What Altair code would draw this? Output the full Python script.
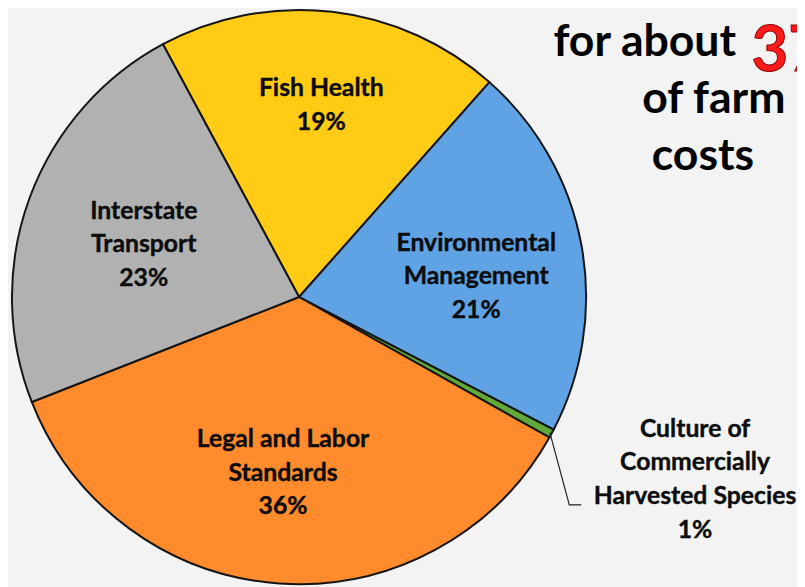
import math
import altair as alt
import pandas as pd

# ---- data ----
categories = [
    "Fish Health",
    "Environmental Management",
    "Culture of Commercially Harvested Species",
    "Legal and Labor Standards",
    "Interstate Transport",
]
shares = [19.4, 21.1, 0.5, 35.9, 23.1]
inside_labels = [
    "Fish Health\n19%",
    "Environmental\nManagement\n21%",
    "",
    "Legal and Labor\nStandards\n36%",
    "Interstate\nTransport\n23%",
]
outside_label = "Culture of\nCommercially\nHarvested Species\n1%"
colors = ["#FFCB14", "#5FA3E4", "#62A83A", "#FF8B2C", "#B1B1B1"]

# ---- layout / style ----
CX, CY, R = 294, 289, 290
START = math.radians(-28.3)
FONT = "Lato"
LH = 34

df = pd.DataFrame({
    "category": categories,
    "share": shares,
    "label": inside_labels,
    "idx": list(range(len(categories))),
})

theta_scale = alt.Scale(range=[START, START + 2 * math.pi])
color_scale = alt.Scale(domain=categories, range=colors)

base = alt.Chart(df).encode(
    theta=alt.Theta("share:Q", stack=True, scale=theta_scale),
    order=alt.Order("idx:Q"),
    x=alt.value(CX),
    y=alt.value(CY),
)

shadow = alt.Chart(pd.DataFrame({"a": [1]})).mark_circle(
    size=math.pi * (R + 3) ** 2, color="#9a9a9a", opacity=0.45
).encode(x=alt.value(CX + 4), y=alt.value(CY + 2))

arcs = base.mark_arc(outerRadius=R, stroke="#151515", strokeWidth=2).encode(
    color=alt.Color("category:N", scale=color_scale, legend=None)
)

# one text layer per inside label: (row index, radius, dx, extra dy)
label_place = [(0, 195, 0, 0), (1, 180, 2, 12), (3, 178, -4, 0), (4, 166, -1, 4)]
label_layers = []
for k, rad, ddx, ddy in label_place:
    n_lines = inside_labels[k].count("\n") + 1
    layer = base.transform_calculate(
        t=f"datum.idx == {k} ? datum.label : ''"
    ).mark_text(
        radius=rad, font=FONT, fontSize=25, fontWeight="bold",
        lineBreak="\n", lineHeight=LH, align="center", baseline="middle",
        dx=ddx, dy=-(n_lines - 1) * LH / 2 + ddy,
        stroke="#0d0d0d", strokeWidth=0.4,
    ).encode(text="t:N", color=alt.value("#0d0d0d"))
    label_layers.append(layer)

# leader line for the small slice, computed from the data
cum = sum(shares[:2]) + shares[2] / 2
ang = START + 2 * math.pi * cum / sum(shares)
sx, sy = CX + (R - 2) * math.sin(ang), CY - (R - 2) * math.cos(ang)
leader_df = pd.DataFrame({
    "px": [sx, 567, 579],
    "py": [sy, 499, 499],
    "o": [0, 1, 2],
})
leader = alt.Chart(leader_df).mark_line(color="#222222", strokeWidth=1.2).encode(
    x=alt.X("px:Q", scale=alt.Scale(domain=[0, 797], range=[0, 797]), axis=None),
    y=alt.Y("py:Q", scale=alt.Scale(domain=[0, 579], range=[0, 579]), axis=None),
    order="o:Q",
)

outside = alt.Chart(pd.DataFrame({"t": [outside_label]})).mark_text(
    font=FONT, fontSize=25, fontWeight="bold", lineBreak="\n", lineHeight=LH,
    align="center", baseline="middle", color="#0d0d0d",
    stroke="#0d0d0d", strokeWidth=0.4,
).encode(text="t:N", x=alt.value(694), y=alt.value(422))

head_font = dict(font=FONT, fontWeight="bold", color="#000000")
h1 = alt.Chart(pd.DataFrame({"t": ["for about"]})).mark_text(
    fontSize=45, align="left", baseline="alphabetic", **head_font
).encode(text="t:N", x=alt.value(551), y=alt.value(46))
h37 = alt.Chart(pd.DataFrame({"t": ["37%"]})).mark_text(
    fontSize=64, align="left", baseline="alphabetic", font=FONT, fontWeight="bold",
    color="#FF1A1A", stroke="#8a0000", strokeWidth=1,
).encode(text="t:N", x=alt.value(751), y=alt.value(61))
h2 = alt.Chart(pd.DataFrame({"t": ["of farm"]})).mark_text(
    fontSize=45, align="center", baseline="alphabetic", **head_font
).encode(text="t:N", x=alt.value(713), y=alt.value(103))
h3 = alt.Chart(pd.DataFrame({"t": ["costs"]})).mark_text(
    fontSize=45, align="center", baseline="alphabetic", **head_font
).encode(text="t:N", x=alt.value(702), y=alt.value(161))

chart = alt.layer(
    shadow, arcs, *label_layers, leader, outside, h1, h37, h2, h3
).properties(
    width=797, height=579, padding=0, autosize=alt.AutoSizeParams(type="none"),
    background="#F3F3F3",
).configure_view(stroke=None)

chart.save("out.html", embed_options={"renderer": "svg", "actions": False})
